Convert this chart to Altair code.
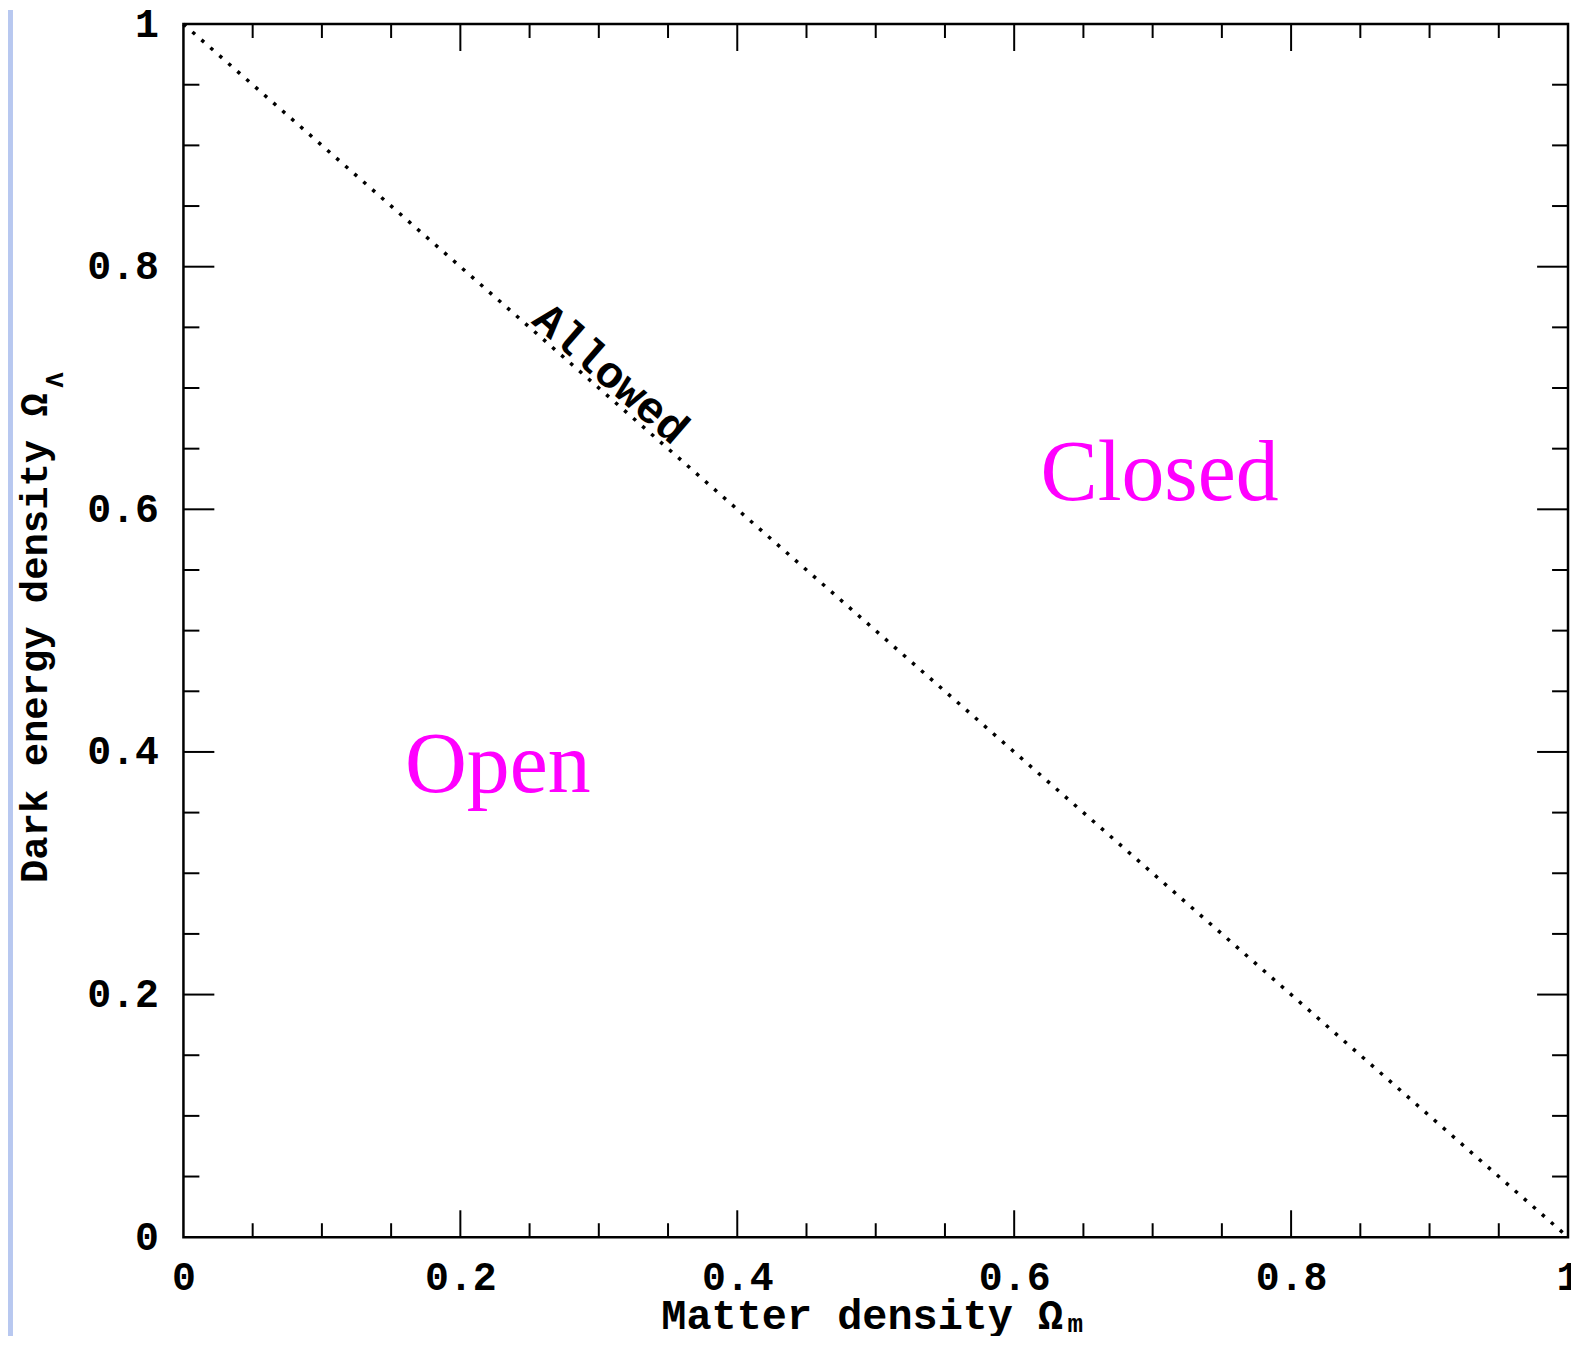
import altair as alt
import pandas as pd

# ---- data ----
line_x = [0.0, 1.0]
line_y = [1.0, 0.0]

region_names = ["Open", "Closed"]
region_x = [0.227, 0.705]
region_y = [0.367, 0.608]

allowed_text = ["Allowed"]
allowed_x = [0.302]
allowed_y = [0.703]

tick_labels = [0, 0.2, 0.4, 0.6, 0.8, 1.0]
major_ticks = [0.2, 0.4, 0.6, 0.8]
minor_ticks = [0.05, 0.1, 0.15, 0.25, 0.3, 0.35, 0.45, 0.5, 0.55,
               0.65, 0.7, 0.75, 0.85, 0.9, 0.95]

x_title = "Matter density \u03a9"
x_sub = "m"
y_title = "Dark energy density \u03a9"
y_sub = "\u039b"

# ---- layout ----
W, H = 1389, 1217
MONO = "Liberation Mono"
SERIF = "Liberation Serif"

xs = alt.Scale(domain=[0, 1], nice=False, zero=False)
ys = alt.Scale(domain=[0, 1], nice=False, zero=False)

axis_common = dict(
    values=tick_labels, format=".1~f", domain=False, ticks=False, grid=False,
    labelFont=MONO, labelFontWeight="bold", labelFontSize=40, labelColor="black",
    title=None, zindex=1, labelOverlap=False, labelFlush=False,
)
x_axis = alt.Axis(orient="bottom", labelPadding=20, **axis_common)
y_axis = alt.Axis(orient="left", labelPadding=25, **axis_common)

line_df = pd.DataFrame({"x": line_x, "y": line_y})
line = alt.Chart(line_df).mark_line(
    color="black", strokeWidth=3.5, strokeDash=[3.5, 8.5], strokeCap="butt"
).encode(
    x=alt.X("x:Q", scale=xs, axis=x_axis),
    y=alt.Y("y:Q", scale=ys, axis=y_axis),
)

def xticks(vals, length):
    df = pd.DataFrame({"v": vals})
    bot = alt.Chart(df).mark_rule(color="black", strokeWidth=2).encode(
        x=alt.X("v:Q", scale=xs), y=alt.value(H), y2=alt.value(H - length))
    top = alt.Chart(df).mark_rule(color="black", strokeWidth=2).encode(
        x=alt.X("v:Q", scale=xs), y=alt.value(0), y2=alt.value(length))
    return [bot, top]

def yticks(vals, length):
    df = pd.DataFrame({"v": vals})
    left = alt.Chart(df).mark_rule(color="black", strokeWidth=2).encode(
        y=alt.Y("v:Q", scale=ys), x=alt.value(0), x2=alt.value(length))
    right = alt.Chart(df).mark_rule(color="black", strokeWidth=2).encode(
        y=alt.Y("v:Q", scale=ys), x=alt.value(W - length), x2=alt.value(W))
    return [left, right]

tick_layers = (xticks(major_ticks, 27) + xticks(minor_ticks, 14)
               + yticks(major_ticks, 31) + yticks(minor_ticks, 16))

reg_df = pd.DataFrame({"name": region_names, "x": region_x, "y": region_y})
regions = alt.Chart(reg_df).mark_text(
    font=SERIF, fontSize=86, color="#ff00ff", align="center", baseline="alphabetic"
).encode(x=alt.X("x:Q", scale=xs), y=alt.Y("y:Q", scale=ys), text="name:N")

al_df = pd.DataFrame({"t": allowed_text, "x": allowed_x, "y": allowed_y})
allowed = alt.Chart(al_df).mark_text(
    font=MONO, fontWeight="bold", fontSize=45, color="black", angle=41,
    align="center", baseline="alphabetic"
).encode(x=alt.X("x:Q", scale=xs), y=alt.Y("y:Q", scale=ys), text="t:N")

title_df = pd.DataFrame({"xt": [x_title], "xs": [x_sub], "yt": [y_title], "ys": [y_sub]})
xt = alt.Chart(title_df).mark_text(
    font=MONO, fontWeight="bold", fontSize=42, color="black", align="center",
    baseline="alphabetic"
).encode(x=alt.value(681), y=alt.value(1309), text="xt:N")
xsub = alt.Chart(title_df).mark_text(
    font=MONO, fontWeight="bold", fontSize=26, color="black", align="left",
    baseline="alphabetic"
).encode(x=alt.value(887), y=alt.value(1312), text="xs:N")
yt = alt.Chart(title_df).mark_text(
    font=MONO, fontWeight="bold", fontSize=39, color="black", align="center",
    baseline="alphabetic", angle=270
).encode(x=alt.value(-137), y=alt.value(616), text="yt:N")
ysub = alt.Chart(title_df).mark_text(
    font=MONO, fontWeight="bold", fontSize=26, color="black", align="center",
    baseline="alphabetic", angle=270
).encode(x=alt.value(-121), y=alt.value(357), text="ys:N")

strip = alt.Chart(title_df).mark_rect(color="#b8c8f0").encode(
    x=alt.value(-176), x2=alt.value(-171), y=alt.value(-14), y2=alt.value(1330))

chart = alt.layer(
    strip, line, *tick_layers, regions, allowed, xt, xsub, yt, ysub
).properties(
    width=W, height=H,
    autosize=alt.AutoSizeParams(type="none"),
    padding={"left": 176, "top": 14, "right": 3, "bottom": 97},
    background="white",
).configure_view(
    stroke="black", strokeWidth=2.5, fill="white"
)

chart.save("out.html", embed_options={"renderer": "svg", "actions": False})
